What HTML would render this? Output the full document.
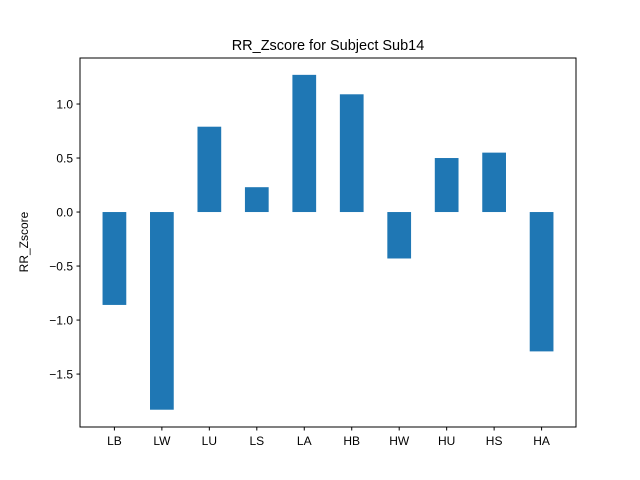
<!DOCTYPE html>
<html><head><meta charset="utf-8"><style>body{margin:0;background:#fff}svg{display:block;font-family:"Liberation Sans","DejaVu Sans",sans-serif}</style></head>
<body>
<svg id="chart" width="640" height="480">
<rect width="640" height="480" fill="#fff"/>
<text x="328" y="50" text-anchor="middle" font-size="14.5">RR_Zscore for Subject Sub14</text>
<text transform="translate(28,242) rotate(-90)" text-anchor="middle" font-size="12">RR_Zscore</text>
<g id="bars"></g><g id="ticks"></g>
<rect x="80" y="58" width="496" height="369" fill="none" stroke="#000" stroke-width="1"/>
</svg>
<script>
const categories=["LB","LW","LU","LS","LA","HB","HW","HU","HS","HA"];
const values=[-0.86,-1.83,0.79,0.23,1.27,1.09,-0.43,0.50,0.55,-1.29];
const yTicks=[-1.5,-1.0,-0.5,0.0,0.5,1.0];
const yTickLabels=["−1.5","−1.0","−0.5","0.0","0.5","1.0"];
const ns="http://www.w3.org/2000/svg";
const L=80,R=576,T=58,B=427,xmin=-0.725,xmax=9.725,ymin=-1.99,ymax=1.426;
const sx=v=>L+(v-xmin)/(xmax-xmin)*(R-L);
const sy=v=>B-(v-ymin)/(ymax-ymin)*(B-T);
const bars=document.getElementById('bars'),ticks=document.getElementById('ticks');
function mk(t,a,p){const e=document.createElementNS(ns,t);for(const k in a)e.setAttribute(k,a[k]);p.appendChild(e);return e;}
values.forEach((v,i)=>{
 const y0=sy(0),y1=sy(v);
 const r=mk('rect',{x:sx(i-0.25),y:Math.min(y0,y1),width:sx(i+0.25)-sx(i-0.25),height:Math.abs(y1-y0),fill:'#1f77b4'},bars);
 
 
 const x=sx(i);
 mk('line',{x1:x,x2:x,y1:B,y2:B+3.5,stroke:'#000'},ticks);
 const t=mk('text',{x:x,y:B+18,'text-anchor':'middle','font-size':'12'},ticks);
 t.textContent=categories[i];
 
 
});
yTicks.forEach((v,i)=>{
 const y=sy(v);
 mk('line',{x1:L-3.5,x2:L,y1:y,y2:y,stroke:'#000'},ticks);
 const t=mk('text',{x:L-7,y:y+4.5,'text-anchor':'end','font-size':'12'},ticks);
 t.textContent=yTickLabels[i];
 
 
});
</script>
</body></html>
